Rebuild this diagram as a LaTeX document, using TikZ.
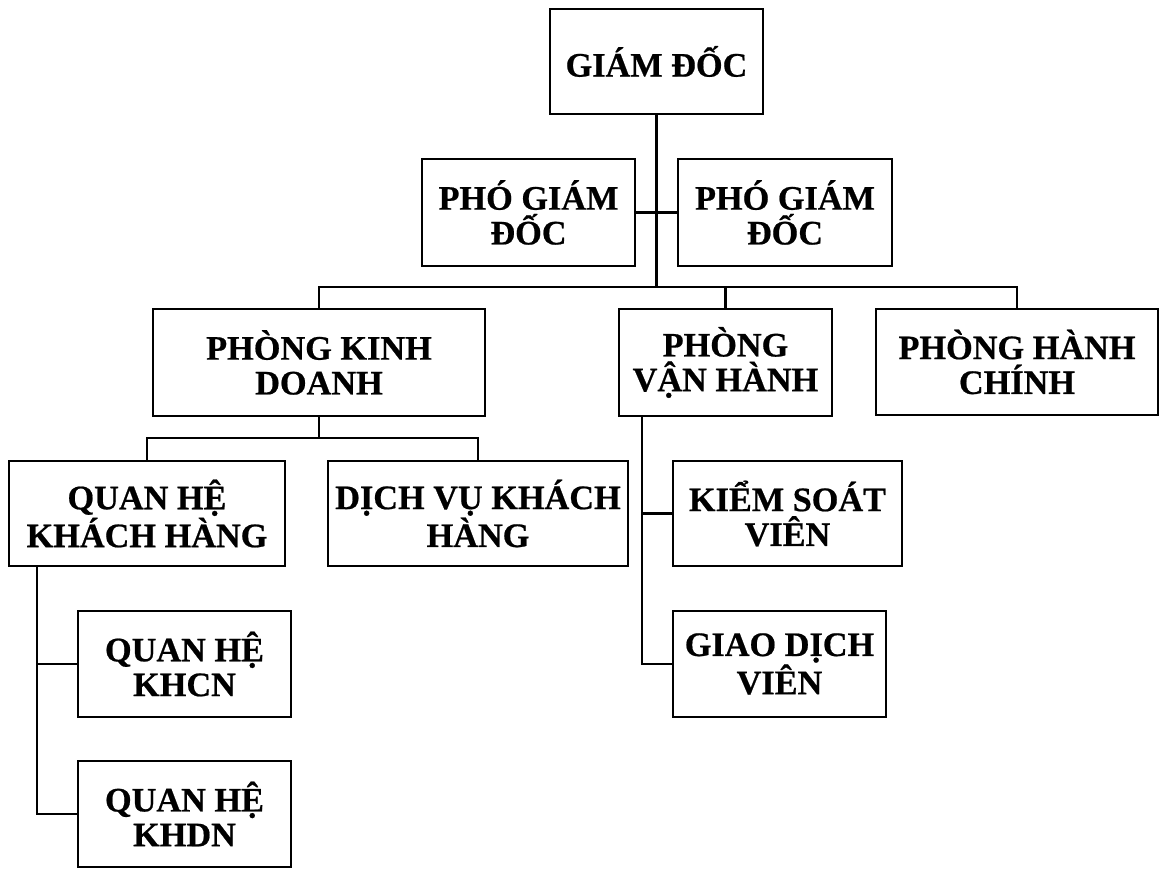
\documentclass[tikz,border=0pt]{standalone}
\usepackage{fontspec}
\setmainfont[BoldFeatures={FakeBold=0.6}]{Liberation Serif}

\begin{document}
\begin{tikzpicture}[x=0.02cm,y=-0.02cm,
  every node/.style={font=\fontsize{19.5}{19.8}\selectfont\bfseries},
  box/.style={draw,line width=1.6pt,align=center,inner sep=0pt},
  link/.style={line width=1.6pt}]
  \useasboundingbox (0,0) rectangle (1160,869);

  % Ban giam doc
  \node[box,minimum width=4.26cm,minimum height=2.10cm] (gd) at (656.5,61.5) {GIÁM ĐỐC};
  \node[box,minimum width=4.26cm,minimum height=2.14cm] (pgdA) at (528.5,212.5) {PHÓ GIÁM\\ĐỐC};
  \node[box,minimum width=4.28cm,minimum height=2.14cm] (pgdB) at (785,212.5) {PHÓ GIÁM\\ĐỐC};

  % Cac phong
  \node[box,minimum width=6.64cm,minimum height=2.14cm] (pkd) at (319,362.5) {PHÒNG KINH\\DOANH};
  \node[box,minimum width=4.26cm,minimum height=2.14cm] (pvh) at (725.5,362.5) {PHÒNG\\VẬN HÀNH};
  \node[box,minimum width=5.64cm,minimum height=2.12cm] (phc) at (1017,362) {PHÒNG HÀNH\\CHÍNH};

  % Bo phan
  \node[box,minimum width=5.52cm,minimum height=2.10cm] (qhkh) at (147,513.5) {QUAN HỆ\\KHÁCH HÀNG};
  \node[box,minimum width=6.00cm,minimum height=2.10cm] (dvkh) at (478,513.5) {DỊCH VỤ KHÁCH\\HÀNG};
  \node[box,minimum width=4.58cm,minimum height=2.10cm] (ksv) at (787.5,513.5) {KIỂM SOÁT\\VIÊN};
  \node[box,minimum width=4.26cm,minimum height=2.12cm] (gdv) at (779.5,664) {GIAO DỊCH\\VIÊN};
  \node[box,minimum width=4.26cm,minimum height=2.12cm] (khcn) at (184.5,664) {QUAN HỆ\\KHCN};
  \node[box,minimum width=4.26cm,minimum height=2.12cm] (khdn) at (184.5,814) {QUAN HỆ\\KHDN};

  % Duong noi
  \coordinate (bus) at (656.5,287);
  \coordinate (kdbus) at (319,438);
  \coordinate (vhtop) at (642,416);
  \coordinate (khtop) at (37,566);

  \draw[link] (gd.south) -- (bus);
  \draw[link] (pgdA.east) -- (pgdB.west);
  \draw[link] (pkd.north) |- (bus) -| (phc.north);
  \draw[link] (pvh.north) -- (pvh.north |- bus);

  \draw[link] (pkd.south) -- (kdbus);
  \draw[link] (qhkh.north) |- (kdbus) -| (dvkh.north);

  \draw[link] (vhtop) |- (gdv.west);
  \draw[link] (ksv.west) -- (vhtop |- ksv.west);

  \draw[link] (khtop) |- (khdn.west);
  \draw[link] (khcn.west) -- (khtop |- khcn.west);
\end{tikzpicture}
\end{document}
